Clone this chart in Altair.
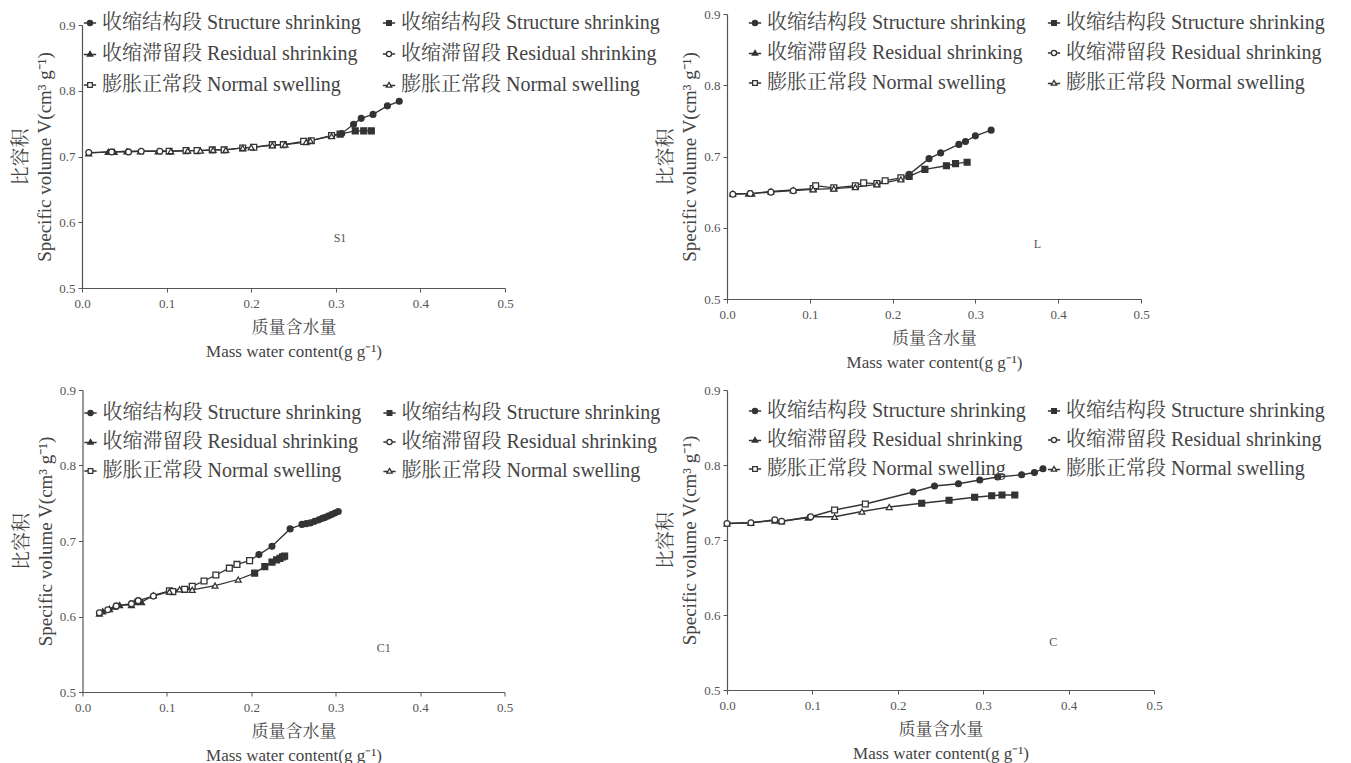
import altair as alt
import pandas as pd

# ---------------- data ----------------
# S1 panel
s1_a_x = [.008, .031, .038, .053, .069, .090, .103, .123, .136, .154, .168, .190, .203, .225, .238, .262, .271, .295, .307, .321, .330, .344, .361, .375]
s1_a_y = [.705, .707, .707, .708, .708, .708, .708, .709, .709, .710, .710, .713, .714, .718, .718, .723, .724, .732, .735, .749, .758, .764, .777, .784]
s1_b_x = [.008, .035, .055, .070, .092, .105, .125, .140, .155, .170, .190, .200, .225, .240, .265, .270, .295, .305, .323, .333, .342]
s1_b_y = [.706, .707, .707, .708, .708, .708, .709, .709, .710, .710, .713, .714, .717, .718, .722, .724, .731, .734, .739, .739, .739]
# L panel
l_a_x = [.007, .026, .030, .053, .080, .104, .107, .129, .155, .165, .181, .191, .210, .220, .244, .258, .280, .288, .300, .319]
l_a_y = [.648, .648, .648, .651, .653, .655, .659, .656, .659, .663, .662, .666, .670, .675, .697, .705, .717, .721, .729, .737]
l_b_x = [.007, .028, .053, .080, .104, .129, .155, .181, .210, .220, .239, .265, .276, .290]
l_b_y = [.647, .648, .650, .652, .654, .655, .657, .661, .668, .672, .682, .687, .690, .692]
# C1 panel
c1_a_x = [.020, .024, .032, .038, .044, .058, .062, .070, .084, .103, .107, .121, .130, .144, .158, .174, .183, .198, .209, .2245, .246, .260, .265, .270, .275, .280, .284, .287, .291, .295, .299, .303]
c1_a_y = [.604, .607, .610, .613, .615, .615, .619, .619, .628, .634, .633, .636, .640, .647, .655, .664, .669, .674, .682, .693, .716, .722, .723, .724, .726, .728, .730, .731, .733, .735, .737, .739]
c1_b_x = [.020, .030, .040, .058, .066, .084, .103, .115, .130, .157, .1845, .204, .216, .2245, .230, .234, .237, .2395]
c1_b_y = [.605, .609, .614, .617, .621, .627, .633, .636, .6354, .641, .649, .6575, .666, .672, .675, .677, .679, .680]
# C panel
c_a_x = [.000, .028, .056, .064, .095, .126, .162, .218, .243, .271, .296, .317, .345, .360, .370]
c_a_y = [.722, .723, .726, .725, .730, .740, .748, .764, .772, .775, .780, .784, .787, .790, .795]
c_b_x = [.000, .028, .056, .064, .098, .126, .158, .190, .228, .260, .290, .310, .322, .337]
c_b_y = [.722, .723, .727, .725, .731, .731, .738, .744, .749, .753, .757, .759, .760, .760]

# segment limits (residual | normal | structure) in water content
seg_limits = {"S1": (0.10, 0.30), "L": (0.10, 0.22), "C1": (0.10, 0.20), "C": (0.10, 0.20)}

panel_names = ["S1", "L", "C1", "C"]
panel_label_x = [0.305, 0.375, 0.357, 0.382]
panel_label_y = [0.576, 0.577, 0.558, 0.564]

# legend entries, listed column by column
legend_keys = ["Sa", "Ra", "Na", "Sb", "Rb", "Nb"]
legend_labels = ["收缩结构段 Structure shrinking", "收缩滞留段 Residual shrinking", "膨胀正常段 Normal swelling",
                 "收缩结构段 Structure shrinking", "收缩滞留段 Residual shrinking", "膨胀正常段 Normal swelling"]
legend_shapes = ["circle", "triangle-up", "square", "square", "circle", "triangle-up"]
legend_fills = ["#333333", "#333333", "#ffffff", "#333333", "#ffffff", "#ffffff"]
legend_strokes = ["#333333"] * 6

# legend glyphs: marker with a short line through it
P_CIRCLE = "M-1,0H-0.42M0.42,0H1M0.42,0A0.42,0.42,0,1,1,-0.42,0A0.42,0.42,0,1,1,0.42,0Z"
P_SQUARE = "M-1,0H-0.38M0.38,0H1M-0.38,-0.38H0.38V0.38H-0.38Z"
P_TRI = "M-1,0.08H-0.3M0.3,0.08H1M0,-0.42L0.44,0.34H-0.44Z"
legend_glyphs = [P_CIRCLE, P_TRI, P_SQUARE, P_SQUARE, P_CIRCLE, P_TRI]

x_ticks = [0.0, 0.1, 0.2, 0.3, 0.4, 0.5]
y_ticks = [0.5, 0.6, 0.7, 0.8, 0.9]

panel_series = {
    "S1": ((s1_a_x, s1_a_y), (s1_b_x, s1_b_y)),
    "L": ((l_a_x, l_a_y), (l_b_x, l_b_y)),
    "C1": ((c1_a_x, c1_a_y), (c1_b_x, c1_b_y)),
    "C": ((c_a_x, c_a_y), (c_b_x, c_b_y)),
}

# layout (pixels) per panel: width, height, legendX, legendY, legend row padding
panel_size = {"S1": (423, 263), "L": (414, 285), "C1": (422, 302), "C": (427, 300)}
legend_pos = {"S1": (-2, -12, 11), "L": (18, -1, 10), "C1": (-2, 13, 9), "C": (18, 11, 9)}

FONT = "Liberation Serif, 'Noto Serif CJK SC', 'Noto Sans CJK SC', serif"
INK = "#333333"

label_expr = "[" + ",".join("'%s'" % s for s in legend_labels) + "][indexof([" + \
    ",".join("'%s'" % k for k in legend_keys) + "], datum.value)]"


def seg_of(x, curve, lim):
    if x < lim[0]:
        return "R" + curve
    if x < lim[1]:
        return "N" + curve
    return "S" + curve


def make_panel(i, name):
    rows = []
    lim = seg_limits[name]
    for curve, (xs, ys) in zip(["a", "b"], panel_series[name]):
        for x, y in zip(xs, ys):
            rows.append({"x": x, "y": y, "curve": curve, "seg": seg_of(x, curve, lim)})
    df = pd.DataFrame(rows)
    w, h = panel_size[name]
    lx, ly, rp = legend_pos[name]

    xscale = alt.Scale(domain=[0, 0.5], nice=False, zero=False)
    yscale = alt.Scale(domain=[0.5, 0.9], nice=False, zero=False)
    xaxis = alt.Axis(values=x_ticks, format=".1f", title=["质量含水量", "Mass water content(g g⁻¹)"])
    yaxis = alt.Axis(values=y_ticks, format=".1f", title=["比容积", "Specific volume V(cm³ g⁻¹)"])

    leg = alt.Legend(orient="none", legendX=lx, legendY=ly, columns=2, rowPadding=rp,
                     title=None, labelExpr=label_expr)
    base = alt.Chart(df)
    line = base.mark_line(color=INK, strokeWidth=1.3).encode(
        x=alt.X("x:Q", scale=xscale, axis=xaxis),
        y=alt.Y("y:Q", scale=yscale, axis=yaxis),
        detail="curve:N",
        order="x:Q",
    )
    pts = base.mark_point(size=34, strokeWidth=1.3, opacity=1, filled=False).encode(
        x=alt.X("x:Q", scale=xscale),
        y=alt.Y("y:Q", scale=yscale),
        shape=alt.Shape("seg:N", scale=alt.Scale(domain=legend_keys, range=legend_shapes), legend=None),
        fill=alt.Fill("seg:N", scale=alt.Scale(domain=legend_keys, range=legend_fills), legend=None),
        stroke=alt.Stroke("seg:N", scale=alt.Scale(domain=legend_keys, range=legend_strokes), legend=None),
    )
    # legend-only layer: no rows pass the filter, the explicit domains drive the legend
    key = base.transform_filter("false").mark_point(size=150, strokeWidth=1.3, opacity=1, filled=False).encode(
        x=alt.X("x:Q", scale=xscale),
        y=alt.Y("y:Q", scale=yscale),
        shape=alt.Shape("seg:N", scale=alt.Scale(domain=legend_keys, range=legend_glyphs), legend=leg),
        fill=alt.Fill("seg:N", scale=alt.Scale(domain=legend_keys, range=legend_fills), legend=leg),
        stroke=alt.Stroke("seg:N", scale=alt.Scale(domain=legend_keys, range=legend_strokes), legend=leg),
    )
    lab_df = pd.DataFrame({"x": [panel_label_x[i]], "y": [panel_label_y[i]], "t": [name]})
    lab = alt.Chart(lab_df).mark_text(font=FONT, fontSize=12, color="#555").encode(
        x=alt.X("x:Q", scale=xscale), y=alt.Y("y:Q", scale=yscale), text="t:N")
    return alt.layer(line, pts, key, lab).resolve_scale(
        shape="independent", fill="independent", stroke="independent").properties(width=w, height=h)


panels = [make_panel(i, n) for i, n in enumerate(panel_names)]

chart = alt.ConcatChart(
    concat=panels, columns=2,
    spacing=alt.RowColnumber(row=91, column=222),
    bounds="flush", center=True,
).resolve_scale(shape="independent", fill="independent", stroke="independent").resolve_legend(
    shape="independent", fill="independent", stroke="independent").properties(
    padding={"left": 3, "top": 0, "right": 0, "bottom": 0}
).configure_view(stroke=None).configure_axis(
    grid=False, labelFont=FONT, labelFontSize=13, labelColor="#555", labelPadding=3,
    tickColor="#555", domainColor="#555", tickSize=4, domainWidth=1.2,
    titleFont=FONT, titleFontWeight="normal", titleColor="#444",
    titleLineHeight=24, labelFlush=False,
).configure_axisY(titlePadding=4, titleFontSize=19).configure_axisX(
    titlePadding=9, titleFontSize=17, labelPadding=5).configure_legend(
    labelFont=FONT, labelFontSize=20, labelColor="#444", labelLimit=500,
    symbolSize=150, symbolStrokeColor=INK, symbolStrokeWidth=1.3,
    columnPadding=18, padding=0, labelOffset=2,
)

chart.save("out.html", embed_options={"renderer": "svg", "actions": False})
